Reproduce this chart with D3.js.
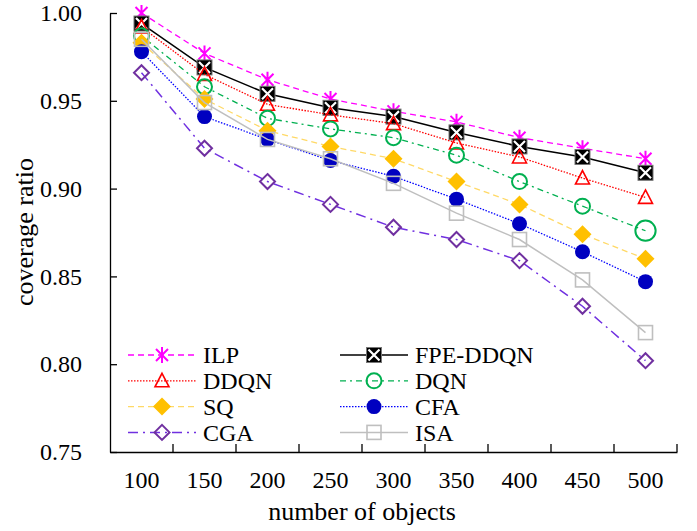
<!DOCTYPE html>
<html>
<head>
<meta charset="utf-8">
<script src="https://cdn.jsdelivr.net/npm/d3@7"></script>
<style>
  body { margin: 0; background: #fff; }
  svg text { font-family: "Times New Roman", "Liberation Serif", serif; fill: #000; }
</style>
</head>
<body>
<div id="chart"></div>
<script>
// coverage ratio vs number of objects

const objects = [100, 150, 200, 250, 300, 350, 400, 450, 500];
const yTicks = [0.75, 0.80, 0.85, 0.90, 0.95, 1.00];

const ILP = [1.000, 0.977, 0.962, 0.951, 0.944, 0.938, 0.929, 0.923, 0.917];
const FPE_DDQN = [0.994, 0.969, 0.954, 0.946, 0.941, 0.932, 0.924, 0.918, 0.909];
const DDQN = [0.992, 0.965, 0.948, 0.942, 0.937, 0.926, 0.918, 0.906, 0.895];
const DQN = [0.987, 0.958, 0.940, 0.934, 0.929, 0.919, 0.904, 0.890, 0.876];
const SQ = [0.983, 0.951, 0.933, 0.924, 0.917, 0.904, 0.891, 0.874, 0.860];
const CFA = [0.978, 0.941, 0.928, 0.916, 0.907, 0.894, 0.880, 0.864, 0.847];
const CGA = [0.966, 0.923, 0.904, 0.891, 0.878, 0.871, 0.859, 0.833, 0.802];
const ISA = [0.985, 0.949, 0.928, 0.917, 0.903, 0.886, 0.871, 0.848, 0.818];

// 画法: 线型 + 标记
const series = [
  { name: 'ILP', values: ILP, color: '#ff00ff', dash: '6,4', width: 1.3, marker: 'star' },
  { name: 'FPE-DDQN', values: FPE_DDQN, color: '#000000', dash: null, width: 1.5, marker: 'xbox' },
  { name: 'DDQN', values: DDQN, color: '#ff0000', dash: '1.5,1.5', width: 1.3, marker: 'triangle' },
  { name: 'DQN', values: DQN, color: '#00b050', dash: '6,4,2,4', width: 1.3, marker: 'circle' },
  { name: 'SQ', values: SQ, color: '#ffd966', mcolor: '#ffc000', dash: '6,4', width: 1.3, marker: 'diamondFill' },
  { name: 'CFA', values: CFA, color: '#0000ff', mcolor: '#0000c0', dash: '1.5,1.5', width: 1.3, marker: 'dot' },
  { name: 'CGA', values: CGA, color: '#7030e0', mcolor: '#7030a0', dash: '10,5,2,5', width: 1.5, marker: 'diamond' },
  { name: 'ISA', values: ISA, color: '#bfbfbf', dash: null, width: 1.5, marker: 'square' }
];

const W = 697, H = 531;
const margin = { top: 13, right: 20, bottom: 79, left: 110 };
const width = W - margin.left - margin.right;
const height = H - margin.top - margin.bottom;

const svg = d3.select('#chart').append('svg')
  .attr('width', W).attr('height', H);
const g = svg.append('g')
  .attr('transform', 'translate(' + margin.left + ',' + margin.top + ')');

const xScale = d3.scaleBand().domain(objects).range([0, width]);
const yScale = d3.scaleLinear().domain([0.75, 1.00]).range([height, 0]);

// y 轴，刻度朝内
const yAxis = d3.axisLeft(yScale).tickValues(yTicks)
  .tickFormat(d3.format('.2f')).tickSizeInner(-7).tickSizeOuter(0).tickPadding(28);
g.append('g').attr('class', 'yaxis').call(yAxis)
  .call(function (a) {
    a.selectAll('line, path').attr('stroke', '#000').attr('stroke-width', 1.3);
    a.selectAll('text').style('font-size', '24px').attr('fill', '#000');
  });

// x 轴: 标签在类别中心，刻度在类别之间
const xAxis = d3.axisBottom(xScale).tickSize(0).tickPadding(19);
g.append('g').attr('class', 'xaxis').attr('transform', 'translate(0,' + height + ')')
  .call(xAxis)
  .call(function (a) {
    a.select('.domain').attr('stroke', '#000').attr('stroke-width', 1.3);
    a.selectAll('text').style('font-size', '24px').attr('fill', '#000');
  });
g.append('g').selectAll('line').data(objects)
  .enter().append('line')
  .attr('x1', function (d) { return xScale(d) + xScale.step(); })
  .attr('x2', function (d) { return xScale(d) + xScale.step(); })
  .attr('y1', height).attr('y2', height - 8)
  .attr('stroke', '#000').attr('stroke-width', 1.3);

// 轴标题
svg.append('text').attr('x', 362).attr('y', 520)
  .attr('text-anchor', 'middle').style('font-size', '26px').text('number of objects');
svg.append('text').attr('transform', 'translate(33,232) rotate(-90)')
  .attr('text-anchor', 'middle').style('font-size', '26px').text('coverage ratio');

function drawMarker(sel, s, big) {
  const c = s.mcolor || s.color;
  const k = big ? 1.35 : 1;
  switch (s.marker) {
    case 'star': {
      const r = 8;
      const p = 'M0,' + (-r) + 'L0,' + r +
        'M' + (-r * 0.75) + ',' + (-r * 0.75) + 'L' + (r * 0.75) + ',' + (r * 0.75) +
        'M' + (-r * 0.75) + ',' + (r * 0.75) + 'L' + (r * 0.75) + ',' + (-r * 0.75);
      sel.append('path').attr('d', p).attr('stroke', c).attr('stroke-width', 2).attr('fill', 'none');
      break;
    }
    case 'xbox': {
      const r = 7.5;
      sel.append('rect').attr('x', -r).attr('y', -r).attr('width', 2 * r).attr('height', 2 * r)
        .attr('fill', '#000').attr('stroke', '#777').attr('stroke-width', 1);
      const q = r - 2;
      sel.append('path').attr('d', 'M' + (-q) + ',' + (-q) + 'L' + q + ',' + q + 'M' + (-q) + ',' + q + 'L' + q + ',' + (-q))
        .attr('stroke', '#fff').attr('stroke-width', 2.2);
      break;
    }
    case 'triangle':
      sel.append('path').attr('d', 'M0,-7.5L7,6L-7,6Z')
        .attr('fill', 'none').attr('stroke', c).attr('stroke-width', 1.6);
      break;
    case 'circle':
      sel.append('circle').attr('r', 7.5 * k)
        .attr('fill', 'none').attr('stroke', c).attr('stroke-width', 2);
      break;
    case 'diamondFill':
      sel.append('path').attr('d', 'M0,-9L9,0L0,9L-9,0Z').attr('fill', c);
      break;
    case 'dot':
      sel.append('circle').attr('r', 7.5).attr('fill', c);
      break;
    case 'diamond':
      sel.append('path').attr('d', 'M0,-7.5L7.5,0L0,7.5L-7.5,0Z')
        .attr('fill', 'none').attr('stroke', c).attr('stroke-width', 2);
      break;
    case 'square':
      sel.append('rect').attr('x', -7).attr('y', -7).attr('width', 14).attr('height', 14)
        .attr('fill', 'none').attr('stroke', c).attr('stroke-width', 1.6);
      break;
  }
}

const line = d3.line()
  .x(function (d, i) { return xScale(objects[i]) + xScale.bandwidth() / 2; })
  .y(function (d) { return yScale(d); });

series.forEach(function (s) {
  g.append('path').datum(s.values)
    .attr('d', line)
    .attr('fill', 'none')
    .attr('stroke', s.color)
    .attr('stroke-width', s.width)
    .attr('stroke-dasharray', s.dash);

  s.values.forEach(function (v, i) {
    const m = g.append('g').attr('transform', 'translate(' +
      (xScale(objects[i]) + xScale.bandwidth() / 2) + ',' + yScale(v) + ')');
    // DQN 最后一个点的标记在原图中更大
    drawMarker(m, s, s.name === 'DQN' && i === s.values.length - 1);
  });
});

// 图例: 两列
const legend = svg.append('g').attr('class', 'legend');
series.forEach(function (s, i) {
  const col = i % 2;
  const row = Math.floor(i / 2);
  const x0 = col === 0 ? 128 : 340;
  const y0 = 355 + row * 25.8;
  const item = legend.append('g').attr('transform', 'translate(' + x0 + ',' + y0 + ')');
  item.append('line').attr('x1', 0).attr('x2', 68).attr('y1', 0).attr('y2', 0)
    .attr('stroke', s.color).attr('stroke-width', s.width).attr('stroke-dasharray', s.dash);
  drawMarker(item.append('g').attr('transform', 'translate(34,0)'), s, false);
  item.append('text').attr('x', 75).attr('y', 0).attr('dy', '0.35em')
    .style('font-size', '24px').text(s.name);
});
</script>
</body>
</html>
